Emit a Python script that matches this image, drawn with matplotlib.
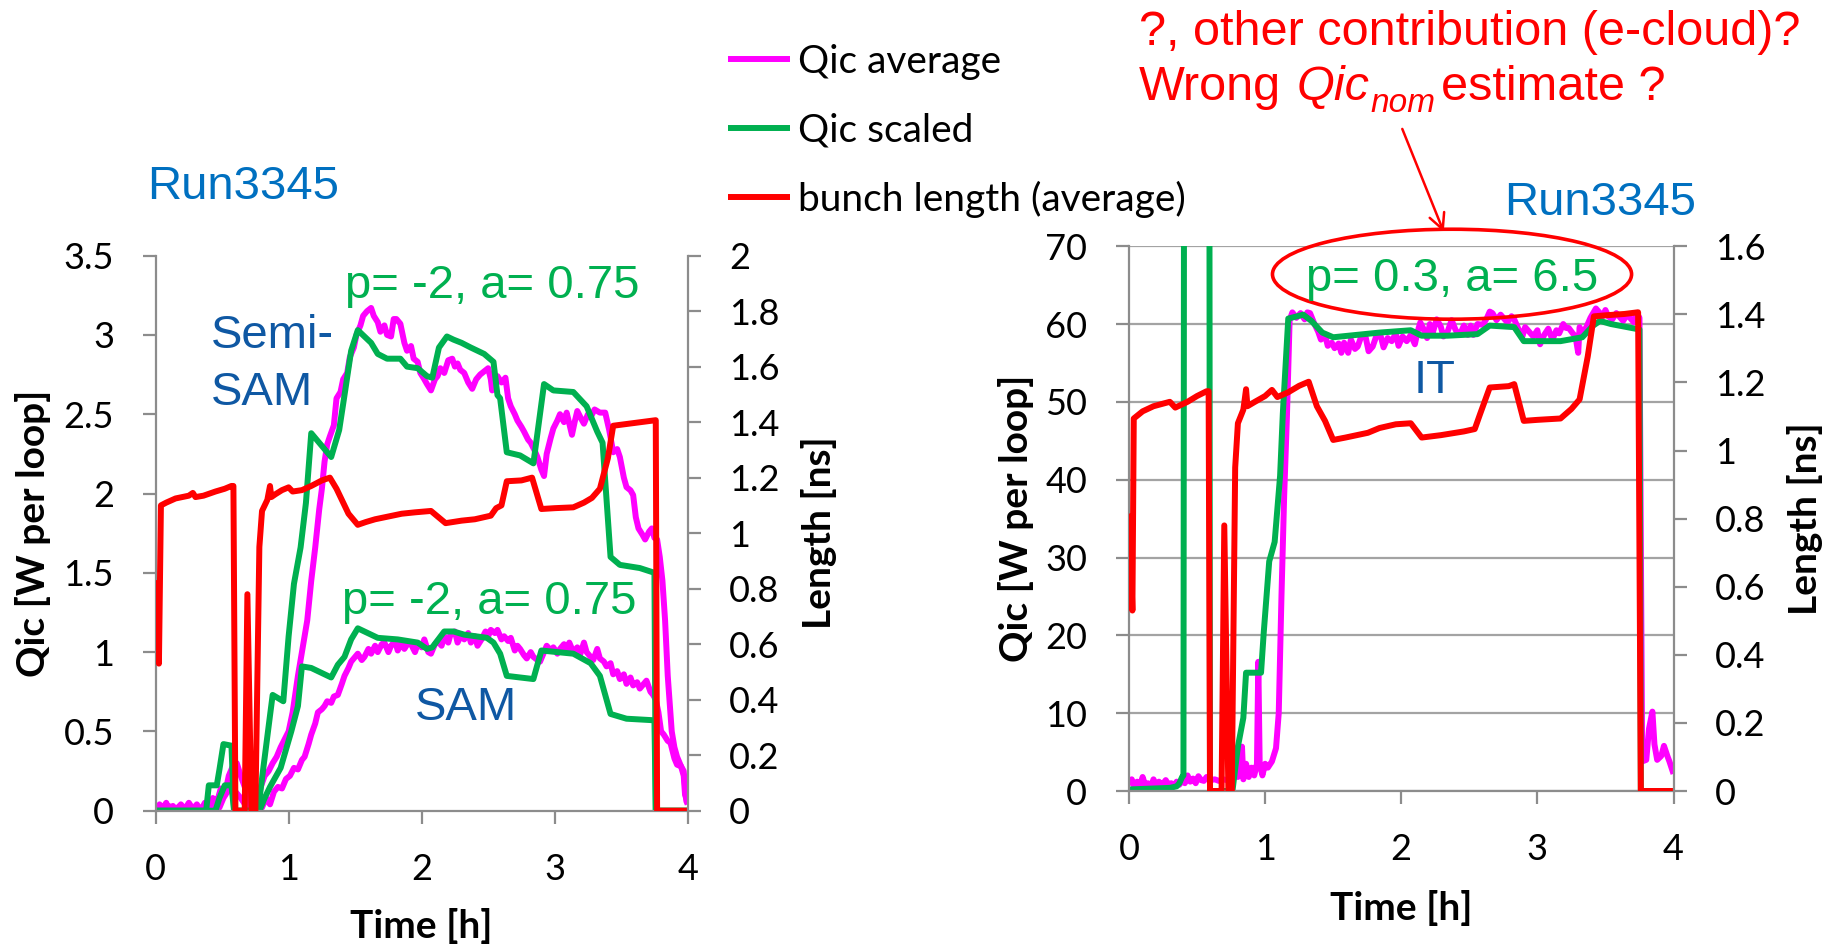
import matplotlib
matplotlib.use("Agg")
import matplotlib.pyplot as plt
from matplotlib.patches import Ellipse

# ---------------------------------------------------------------- data
# Left panel: Semi-SAM and SAM heat loads [W per loop] and bunch length [ns]
semi_avg_t = [0.0, 0.03, 0.05, 0.08, 0.1, 0.13, 0.16, 0.19, 0.22, 0.25, 0.28, 0.31, 0.34, 0.37, 0.40,
              0.43, 0.46, 0.49, 0.52, 0.55, 0.58, 0.61, 0.64, 0.67, 0.70, 0.73, 0.76, 0.79, 0.82, 0.85,
              0.88, 0.91, 0.94, 0.97, 1.0, 1.03, 1.07, 1.10, 1.14, 1.17, 1.20, 1.23, 1.25, 1.27, 1.29,
              1.31, 1.34, 1.36, 1.39, 1.41, 1.44, 1.46, 1.49, 1.51, 1.54, 1.56, 1.59, 1.62, 1.64, 1.67,
              1.69, 1.72, 1.74, 1.77, 1.79, 1.81, 1.84, 1.87, 1.89, 1.92, 1.94, 1.97, 1.99, 2.02, 2.04,
              2.07, 2.10, 2.12, 2.14, 2.17, 2.20, 2.23, 2.25, 2.27, 2.29, 2.32, 2.35, 2.38, 2.41, 2.44,
              2.47, 2.50, 2.52, 2.53, 2.55, 2.57, 2.60, 2.63, 2.65, 2.67, 2.70, 2.72, 2.75, 2.77, 2.80,
              2.82, 2.85, 2.87, 2.90, 2.92, 2.94, 2.97, 2.99, 3.02, 3.04, 3.07, 3.09, 3.11, 3.13, 3.15,
              3.17, 3.20, 3.22, 3.25, 3.27, 3.30, 3.34, 3.38, 3.41, 3.44, 3.47, 3.49, 3.52, 3.54, 3.57,
              3.59, 3.61, 3.63, 3.66, 3.68, 3.71, 3.73, 3.75, 3.77, 3.79, 3.81, 3.83, 3.85, 3.88, 3.90,
              3.92, 3.95, 3.97, 3.98, 4.0]
semi_avg = [0.0, 0.04, 0.01, 0.05, 0.0, 0.03, 0.0, 0.04, 0.01, 0.05, 0.01, 0.04, 0.0, 0.05, 0.01,
            0.08, 0.05, 0.14, 0.10, 0.22, 0.28, 0.30, 0.22, 0.15, 0.05, 0.0, 0.02, 0.15, 0.22, 0.25,
            0.30, 0.34, 0.40, 0.45, 0.50, 0.62, 0.85, 1.0, 1.2, 1.45, 1.66, 1.9, 2.03, 2.2, 2.31,
            2.36, 2.43, 2.6, 2.64, 2.72, 2.76, 2.86, 2.92, 3.0, 3.06, 3.12, 3.15, 3.17, 3.12, 3.08,
            3.02, 3.06, 3.0, 2.99, 3.1, 3.1, 3.07, 2.95, 2.9, 2.93, 2.85, 2.83, 2.76, 2.72, 2.69,
            2.65, 2.72, 2.74, 2.79, 2.76, 2.84, 2.85, 2.8, 2.82, 2.78, 2.76, 2.7, 2.66, 2.72, 2.75,
            2.77, 2.79, 2.72, 2.65, 2.72, 2.74, 2.7, 2.73, 2.6, 2.55, 2.5, 2.46, 2.42, 2.39, 2.34,
            2.32, 2.27, 2.23, 2.15, 2.11, 2.25, 2.35, 2.41, 2.46, 2.5, 2.45, 2.51, 2.44, 2.37, 2.45,
            2.52, 2.47, 2.44, 2.5, 2.48, 2.53, 2.51, 2.51, 2.4, 2.26, 2.28, 2.23, 2.1, 2.04, 2.02,
            1.99, 1.85, 1.78, 1.74, 1.71, 1.76, 1.78, 1.72, 1.71, 1.6, 1.45, 1.2, 0.85, 0.5, 0.4,
            0.34, 0.28, 0.22, 0.1, 0.05]

sam_avg_t = [0.0, 0.03, 0.06, 0.1, 0.14, 0.18, 0.22, 0.26, 0.30, 0.34, 0.38, 0.42, 0.45, 0.48, 0.51,
             0.54, 0.57, 0.60, 0.64, 0.68, 0.72, 0.76, 0.80, 0.83, 0.86, 0.89, 0.92, 0.95, 0.98, 1.01,
             1.04, 1.07, 1.10, 1.12, 1.15, 1.17, 1.20, 1.22, 1.25, 1.27, 1.29, 1.32, 1.34, 1.37, 1.40,
             1.42, 1.45, 1.47, 1.50, 1.52, 1.55, 1.57, 1.60, 1.62, 1.65, 1.67, 1.70, 1.72, 1.75, 1.77,
             1.80, 1.82, 1.85, 1.87, 1.90, 1.92, 1.95, 1.97, 2.00, 2.02, 2.05, 2.07, 2.10, 2.12, 2.15,
             2.17, 2.20, 2.22, 2.25, 2.27, 2.30, 2.32, 2.35, 2.37, 2.40, 2.42, 2.45, 2.48, 2.50, 2.52,
             2.55, 2.57, 2.60, 2.62, 2.65, 2.67, 2.70, 2.72, 2.74, 2.77, 2.79, 2.82, 2.84, 2.87, 2.89,
             2.92, 2.94, 2.97, 2.99, 3.02, 3.04, 3.07, 3.09, 3.11, 3.14, 3.17, 3.19, 3.22, 3.24, 3.27,
             3.29, 3.32, 3.34, 3.37, 3.39, 3.42, 3.44, 3.47, 3.49, 3.52, 3.54, 3.57, 3.59, 3.62, 3.64,
             3.67, 3.69, 3.72, 3.74, 3.76, 3.78, 3.80, 3.82, 3.85, 3.87, 3.90, 3.92, 3.95, 3.97, 3.99,
             4.0]
sam_avg = [0.0, 0.02, 0.0, 0.03, 0.0, 0.03, 0.0, 0.03, 0.0, 0.02, 0.0, 0.0, 0.03, 0.02, 0.08,
           0.12, 0.15, 0.12, 0.08, 0.03, 0.0, 0.0, 0.02, 0.08, 0.04, 0.12, 0.15, 0.14, 0.2, 0.22,
           0.27, 0.26, 0.32, 0.34, 0.42, 0.48, 0.55, 0.62, 0.64, 0.66, 0.69, 0.68, 0.72, 0.73, 0.8,
           0.85, 0.9, 0.94, 0.97, 0.99, 0.95, 0.97, 1.02, 0.99, 1.04, 1.0, 1.05, 1.06, 1.0, 1.04,
           1.07, 1.01, 1.06, 1.02, 1.06, 1.05, 1.0, 1.05, 1.03, 1.08, 1.0, 0.99, 1.05, 1.07, 1.04,
           1.1, 1.06, 1.12, 1.13, 1.06, 1.11, 1.08, 1.12, 1.06, 1.1, 1.04, 1.08, 1.13, 1.1, 1.14,
           1.12, 1.14, 1.08, 1.1, 1.07, 1.09, 1.01, 1.04, 1.02, 0.98, 0.96, 1.0, 0.97, 0.95, 0.94,
           1.0, 1.04, 1.01, 1.03, 0.99, 1.02, 1.05, 1.0, 1.06, 1.0, 1.03, 0.98, 1.06, 1.0, 0.97,
           0.95, 1.02, 0.96, 0.94, 0.91, 0.93, 0.86, 0.88, 0.83, 0.86, 0.8, 0.84, 0.79, 0.81, 0.77,
           0.8, 0.82, 0.75, 0.73, 0.7, 0.62, 0.5, 0.48, 0.44, 0.43, 0.33, 0.29, 0.28, 0.25, 0.06,
           0.04]

semi_scaled_t = [0.0, 0.38, 0.40, 0.46, 0.48, 0.51, 0.57, 0.59, 0.77, 0.81, 0.86, 0.88, 0.96, 1.0, 1.04,
                 1.09, 1.13, 1.17, 1.25, 1.32, 1.38, 1.42, 1.47, 1.52, 1.57, 1.62, 1.67, 1.74, 1.84, 1.89,
                 1.97, 2.04, 2.08, 2.13, 2.19, 2.24, 2.30, 2.37, 2.47, 2.54, 2.57, 2.59, 2.64, 2.74, 2.84,
                 2.92, 2.99, 3.14, 3.24, 3.32, 3.36, 3.42, 3.49, 3.64, 3.75, 3.76, 4.0]
semi_scaled = [0.0, 0.0, 0.16, 0.16, 0.26, 0.42, 0.41, 0.0, 0.0, 0.27, 0.6, 0.73, 0.69, 1.1, 1.43,
               1.66, 1.94, 2.38, 2.3, 2.23, 2.4, 2.62, 2.9, 3.03, 2.99, 2.95, 2.88, 2.85, 2.85, 2.8,
               2.79, 2.74, 2.73, 2.92, 2.99, 2.97, 2.95, 2.92, 2.88, 2.83, 2.62, 2.6, 2.26, 2.24, 2.19,
               2.69, 2.65, 2.64, 2.55, 2.39, 2.32, 1.6, 1.55, 1.53, 1.5, 0.0, 0.0]

sam_scaled_t = [0.0, 0.45, 0.48, 0.52, 0.57, 0.59, 0.78, 0.82, 0.86, 0.94, 1.02, 1.07, 1.10, 1.17, 1.32,
                1.37, 1.42, 1.47, 1.52, 1.57, 1.67, 1.82, 1.97, 2.04, 2.08, 2.17, 2.24, 2.32, 2.49, 2.54,
                2.59, 2.64, 2.84, 2.90, 3.14, 3.27, 3.34, 3.42, 3.54, 3.75, 3.76, 4.0]
sam_scaled = [0.0, 0.0, 0.08, 0.16, 0.16, 0.0, 0.0, 0.08, 0.15, 0.27, 0.5, 0.66, 0.91, 0.9, 0.84,
              0.92, 0.97, 1.08, 1.15, 1.13, 1.09, 1.08, 1.06, 1.02, 1.03, 1.13, 1.13, 1.11, 1.09, 1.06,
              0.99, 0.85, 0.83, 1.01, 0.99, 0.93, 0.85, 0.61, 0.58, 0.57, 0.0, 0.0]

left_len_t = [0.0, 0.02, 0.025, 0.04, 0.08, 0.15, 0.25, 0.28, 0.30, 0.36, 0.45, 0.52, 0.57, 0.585, 0.60,
              0.67, 0.69, 0.72, 0.75, 0.78, 0.80, 0.84, 0.86, 0.87, 0.90, 0.95, 1.0, 1.03, 1.10, 1.17,
              1.25, 1.31, 1.36, 1.40, 1.45, 1.52, 1.58, 1.65, 1.75, 1.85, 1.95, 2.07, 2.12, 2.18, 2.30,
              2.40, 2.52, 2.56, 2.60, 2.64, 2.75, 2.83, 2.90, 3.0, 3.14, 3.22, 3.28, 3.34, 3.40, 3.44,
              3.60, 3.76, 3.77, 4.0]
left_len = [0.82, 0.82, 0.53, 1.1, 1.11, 1.125, 1.135, 1.145, 1.13, 1.135, 1.15, 1.16, 1.17, 1.17, 0.0,
            0.0, 0.78, 0.0, 0.0, 0.95, 1.08, 1.12, 1.17, 1.13, 1.14, 1.155, 1.165, 1.15, 1.155, 1.17,
            1.19, 1.2, 1.16, 1.12, 1.07, 1.03, 1.04, 1.05, 1.06, 1.07, 1.075, 1.08, 1.06, 1.036, 1.045,
            1.05, 1.063, 1.09, 1.1, 1.187, 1.19, 1.2, 1.087, 1.09, 1.093, 1.11, 1.127, 1.16, 1.27, 1.387,
            1.397, 1.407, 0.0, 0.0]

# Right panel: IT heat load [W per loop] and bunch length [ns]
it_avg_t = [0.0, 0.02, 0.04, 0.06, 0.08, 0.1, 0.12, 0.14, 0.16, 0.18, 0.2, 0.22, 0.24, 0.27, 0.29,
            0.31, 0.33, 0.35, 0.37, 0.39, 0.41, 0.43, 0.45, 0.47, 0.49, 0.51, 0.53, 0.55, 0.57, 0.6,
            0.63, 0.66, 0.69, 0.72, 0.75, 0.78, 0.8, 0.82, 0.83, 0.84, 0.86, 0.88, 0.9, 0.92, 0.94,
            0.95, 0.96, 0.98, 1.0, 1.02, 1.05, 1.08, 1.1, 1.12, 1.14, 1.16, 1.18, 1.2, 1.23, 1.26,
            1.29, 1.31, 1.33, 1.36, 1.39, 1.41, 1.44, 1.46, 1.49, 1.51, 1.54, 1.56, 1.58, 1.61, 1.63,
            1.66, 1.68, 1.71, 1.74, 1.76, 1.79, 1.82, 1.85, 1.87, 1.9, 1.93, 1.96, 1.98, 2.01, 2.04,
            2.07, 2.1, 2.12, 2.14, 2.16, 2.19, 2.21, 2.23, 2.26, 2.29, 2.31, 2.34, 2.37, 2.4, 2.43,
            2.46, 2.49, 2.51, 2.53, 2.56, 2.6, 2.63, 2.65, 2.67, 2.7, 2.73, 2.75, 2.78, 2.81, 2.83,
            2.86, 2.89, 2.91, 2.94, 2.97, 3.0, 3.02, 3.05, 3.08, 3.11, 3.14, 3.16, 3.19, 3.21, 3.23,
            3.26, 3.28, 3.30, 3.31, 3.33, 3.36, 3.39, 3.41, 3.43, 3.45, 3.48, 3.5, 3.52, 3.55, 3.58,
            3.6, 3.63, 3.66, 3.68, 3.71, 3.73, 3.75, 3.77, 3.8, 3.82, 3.845, 3.86, 3.88, 3.91, 3.93,
            3.955, 3.97, 4.0]
it_avg = [0.8, 1.5, 0.5, 1.2, 0.6, 1.8, 0.7, 1.0, 0.5, 1.5, 0.6, 1.2, 0.7, 1.4, 0.8,
          1.0, 0.6, 1.2, 0.8, 1.4, 1.0, 2.0, 1.2, 1.6, 1.0, 1.9, 1.4, 1.3, 1.8, 1.4,
          1.5, 1.3, 1.5, 1.4, 1.5, 2.5, 1.8, 4.0, 5.7, 1.5, 3.5, 1.8, 3.0, 2.0, 3.5,
          16.6, 3.5, 2.0, 3.5, 3.0, 3.8, 5.5, 10.0, 25.0, 38.0, 48.0, 60.5, 61.5, 60.8, 61.4,
          60.6, 61.5, 61.4, 60.1, 59.0, 58.0, 58.6, 57.2, 57.6, 56.9, 57.5, 56.3, 57.6, 56.3, 58.0,
          56.8, 57.1, 58.6, 58.2, 56.5, 57.1, 58.6, 58.4, 57.0, 58.2, 57.8, 58.8, 57.2, 58.4, 57.8,
          58.6, 57.4, 59.0, 60.2, 59.5, 58.2, 60.0, 58.8, 60.6, 59.7, 58.4, 59.0, 60.5, 59.2, 58.6,
          59.8, 58.6, 59.8, 58.6, 60.0, 59.9, 60.8, 61.6, 61.4, 60.5, 61.2, 60.8, 60.2, 61.0, 60.6,
          59.4, 58.4, 59.6, 59.0, 58.4, 59.2, 57.4, 58.6, 59.4, 58.0, 59.2, 58.8, 60.0, 59.5, 59.5,
          58.8, 58.4, 56.3, 59.6, 58.8, 59.6, 60.8, 61.4, 62.0, 61.6, 61.0, 61.8, 61.0, 60.6, 61.4,
          61.0, 60.4, 61.2, 60.8, 60.2, 61.4, 60.8, 3.8, 4.0, 8.0, 10.2, 6.0, 4.0, 4.5, 5.8,
          4.5, 3.8, 2.2]

it_scaled_t = [0.0, 0.15, 0.3, 0.35, 0.37, 0.39, 0.40, 0.405, 0.59, 0.595, 0.76, 0.8, 0.84, 0.86, 0.97,
               0.99, 1.03, 1.07, 1.11, 1.13, 1.17, 1.28, 1.34, 1.42, 1.5, 1.67, 1.84, 2.07, 2.15, 2.34,
               2.56, 2.65, 2.83, 2.9, 3.17, 3.33, 3.41, 3.46, 3.54, 3.75, 3.76, 4.0]
it_scaled = [0.2, 0.3, 0.4, 0.6, 1.0, 1.8, 2.0, 95.0, 95.0, 0.0, 0.0, 5.7, 9.4, 15.2, 15.2,
             20.4, 29.5, 32.0, 40.5, 48.5, 60.7, 61.2, 60.4, 58.9, 58.3, 58.6, 58.9, 59.2, 58.5, 58.5,
             58.7, 59.8, 59.6, 57.8, 57.8, 58.3, 59.8, 60.4, 60.0, 59.3, 0.0, 0.0]

right_len_t = [0.005, 0.025, 0.035, 0.1, 0.18, 0.3, 0.34, 0.43, 0.5, 0.57, 0.585, 0.595, 0.68, 0.70, 0.73,
               0.755, 0.78, 0.8, 0.84, 0.86, 0.87, 0.925, 1.0, 1.05, 1.09, 1.17, 1.25, 1.32, 1.38, 1.44,
               1.5, 1.59, 1.755, 1.84, 1.96, 2.07, 2.15, 2.29, 2.46, 2.54, 2.58, 2.65, 2.79, 2.83, 2.9,
               3.0, 3.17, 3.25, 3.31, 3.37, 3.415, 3.5, 3.64, 3.74, 3.76, 4.0]
right_len = [0.815, 0.53, 1.094, 1.115, 1.13, 1.143, 1.126, 1.143, 1.16, 1.174, 1.174, 0.0, 0.0, 0.78, 0.0,
             0.0, 0.95, 1.08, 1.12, 1.18, 1.13, 1.143, 1.16, 1.178, 1.157, 1.171, 1.19, 1.202, 1.13, 1.087,
             1.031, 1.038, 1.052, 1.066, 1.077, 1.08, 1.038, 1.045, 1.056, 1.063, 1.108, 1.185, 1.189, 1.195, 1.087,
             1.09, 1.094, 1.122, 1.15, 1.276, 1.394, 1.397, 1.401, 1.406, 0.0, 0.0]

# Axis ticks and labels
time_ticks = [0, 1, 2, 3, 4]
time_labels = ["0", "1", "2", "3", "4"]
left_q_ticks = [0, 0.5, 1, 1.5, 2, 2.5, 3, 3.5]
left_q_labels = ["0", "0.5", "1", "1.5", "2", "2.5", "3", "3.5"]
left_l_ticks = [0, 0.2, 0.4, 0.6, 0.8, 1, 1.2, 1.4, 1.6, 1.8, 2]
left_l_labels = ["0", "0.2", "0.4", "0.6", "0.8", "1", "1.2", "1.4", "1.6", "1.8", "2"]
right_q_ticks = [0, 10, 20, 30, 40, 50, 60, 70]
right_q_labels = ["0", "10", "20", "30", "40", "50", "60", "70"]
right_l_ticks = [0, 0.2, 0.4, 0.6, 0.8, 1, 1.2, 1.4, 1.6]
right_l_labels = ["0", "0.2", "0.4", "0.6", "0.8", "1", "1.2", "1.4", "1.6"]

series_names = ["Qic average", "Qic scaled", "bunch length (average)"]

# ---------------------------------------------------------------- style
plt.rcParams['font.family'] = ['Lato', 'DejaVu Sans']

W, H = 1835, 946
MAG, GRN, RED = '#FF00FF', '#00B050', '#FF0000'
AXC = '#8C8C8C'
BLUE_RUN = '#0070C0'
BLUE_TXT = '#0F58A3'
LW = 4.3
TICK_FS = 26
LAB_FS = 28
ANN = ['Liberation Sans', 'DejaVu Sans']


def fx(x):
    return x / W


def fy(y):
    return 1 - y / H


def style_pair(ax, ax2, qt, ql, lt, ll):
    for s in ['top', 'right']:
        ax.spines[s].set_visible(False)
    for s in ['top', 'left', 'bottom']:
        ax2.spines[s].set_visible(False)
    for s in ['left', 'bottom']:
        ax.spines[s].set_color(AXC)
        ax.spines[s].set_linewidth(1.6)
    ax2.spines['right'].set_color(AXC)
    ax2.spines['right'].set_linewidth(1.6)
    ax.set_xlim(0, 4)
    ax.set_xticks(time_ticks)
    ax.set_xticklabels(time_labels)
    ax.set_yticks(qt)
    ax.set_yticklabels(ql)
    ax2.set_yticks(lt)
    ax2.set_yticklabels(ll)
    ax.tick_params(axis='x', direction='out', length=9.5, width=1.6, color=AXC,
                   pad=21, labelsize=TICK_FS)
    ax.tick_params(axis='y', direction='out', length=9.5, width=1.6, color=AXC,
                   pad=20.5, labelsize=TICK_FS)
    ax2.tick_params(axis='y', direction='out', length=9.5, width=1.6, color=AXC,
                    pad=20.5, labelsize=TICK_FS)
    ax.patch.set_alpha(0)
    ax2.patch.set_alpha(0)


fig = plt.figure(figsize=(W / 100, H / 100), dpi=100)

# ---------------------------------------------------------------- left panel
axL = fig.add_axes([fx(155.6), fy(810.7), (687.7 - 155.6) / W, (810.7 - 255.6) / H])
axL2 = axL.twinx()
axL.set_ylim(0, 3.5)
axL2.set_ylim(0, 2)
style_pair(axL, axL2, left_q_ticks, left_q_labels, left_l_ticks, left_l_labels)

kw = dict(lw=LW, solid_joinstyle='round', solid_capstyle='butt')
l_mag, = axL.plot(semi_avg_t, semi_avg, color=MAG, **kw)
axL.plot(sam_avg_t, sam_avg, color=MAG, **kw)
l_grn, = axL.plot(semi_scaled_t, semi_scaled, color=GRN, **kw)
axL.plot(sam_scaled_t, sam_scaled, color=GRN, **kw)
l_red, = axL2.plot(left_len_t, left_len, color=RED, **kw)

# ---------------------------------------------------------------- right panel
axR = fig.add_axes([fx(1129.0), fy(791.0), (1673.5 - 1129.0) / W, (791.0 - 246.2) / H])
axR2 = axR.twinx()
axR.set_ylim(0, 70)
axR2.set_ylim(0, 1.6)
style_pair(axR, axR2, right_q_ticks, right_q_labels, right_l_ticks, right_l_labels)
axR.set_axisbelow(True)
axR.yaxis.grid(True, color='#A3A3A3', lw=1.6)

axR.plot(it_avg_t, it_avg, color=MAG, **kw)
axR.plot(it_scaled_t, it_scaled, color=GRN, **kw)
axR2.plot(right_len_t, right_len, color=RED, **kw)

# ---------------------------------------------------------------- axis titles
bold = dict(fontsize=LAB_FS, fontweight='bold', ha='center', va='center')
fig.text(fx(33), fy(533), "Qic [W per loop]", rotation=90, **bold)
fig.text(fx(819), fy(533), "Length [ns]", rotation=90, **bold)
fig.text(fx(421), fy(926), "Time [h]", **bold)
fig.text(fx(1016), fy(518.5), "Qic [W per loop]", rotation=90, **bold)
fig.text(fx(1805), fy(518.5), "Length [ns]", rotation=90, **bold)
fig.text(fx(1401), fy(908), "Time [h]", **bold)

# ---------------------------------------------------------------- annotations
ann = dict(family=ANN, fontsize=34, va='baseline', ha='left')
fig.text(fx(147), fy(199), "Run3345", color=BLUE_RUN, **ann)
fig.text(fx(1504), fy(215), "Run3345", color=BLUE_RUN, **ann)
fig.text(fx(211), fy(348), "Semi-", color=BLUE_TXT, **ann)
fig.text(fx(211), fy(405), "SAM", color=BLUE_TXT, **ann)
fig.text(fx(415), fy(720), "SAM", color=BLUE_TXT, **ann)
fig.text(fx(1414), fy(393), "IT", color=BLUE_TXT, **ann)
fig.text(fx(345), fy(298), "p= -2, a= 0.75", color=GRN, **ann)
fig.text(fx(342), fy(614), "p= -2, a= 0.75", color=GRN, **ann)
fig.text(fx(1306), fy(291), "p= 0.3, a= 6.5", color=GRN, **ann)

# red question block (second line built from pieces for the italic subscript)
red = dict(family=ANN, va='baseline', ha='left', color=RED)
fig.text(fx(1139), fy(45), "?, other contribution (e-cloud)?", fontsize=35, **red)
fig.text(fx(1139), fy(100), "Wrong", fontsize=35, **red)
fig.text(fx(1297), fy(100), "Qic", fontsize=35, style='italic', **red)
fig.text(fx(1370), fy(112), "nom", fontsize=24, style='italic', **red)
fig.text(fx(1441), fy(100), "estimate ?", fontsize=35, **red)

ell = Ellipse((2.373, 66.4), 2.638, 11.56, fill=False, edgecolor=RED, lw=2.6,
              clip_on=False, zorder=5)
axR.add_patch(ell)
axR.annotate("", xy=(2.32, 71.5), xytext=(2.0, 85.4), xycoords='data',
             annotation_clip=False,
             arrowprops=dict(arrowstyle='->', color=RED, lw=1.8, mutation_scale=28))

# ---------------------------------------------------------------- legend
fig.legend([l_mag, l_grn, l_red], series_names, loc='upper left',
           bbox_to_anchor=(fx(728), fy(44)), frameon=False, fontsize=28,
           handlelength=1.6, handletextpad=0.2, labelspacing=0.83,
           borderpad=0, borderaxespad=0)

fig.savefig("out.png", dpi=100)
